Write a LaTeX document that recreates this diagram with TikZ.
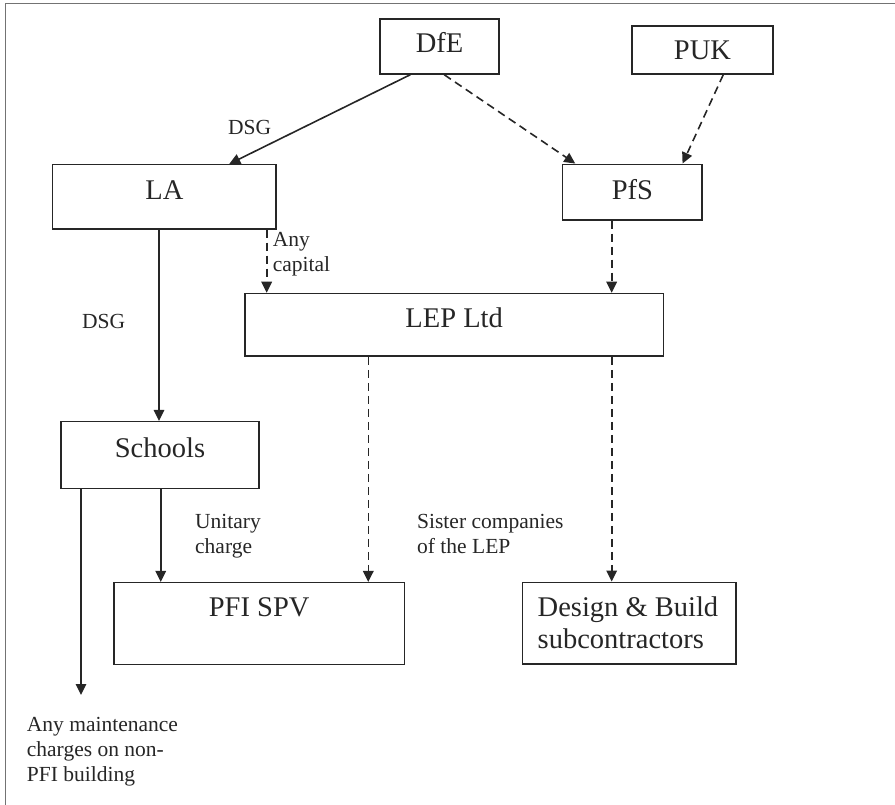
\documentclass[tikz,border=0pt]{standalone}
\usepackage{fontspec}
\setmainfont{Liberation Serif}
\usetikzlibrary{arrows.meta}
\newcommand\lns[1]{\vtop{\halign{##\hfil\cr#1\crcr}}}
\begin{document}
\begin{tikzpicture}[x=1pt,y=-1pt,
  box/.style={draw=black!85,line width=1.5pt,inner sep=0pt,rectangle},
  big/.style={font=\fontsize{28.5}{32}\selectfont,inner sep=0pt,anchor=base,text=black!85},
  lbl/.style={font=\fontsize{21.5}{25}\selectfont,inner sep=0pt,anchor=base west,text=black!85},
  conn/.style={line width=1.6pt,draw=black!85,-{Triangle[length=11pt,width=10.5pt]}},
  dsh/.style={conn,dash pattern=on 8pt off 5pt}]
\useasboundingbox (0,0) rectangle (895,805);
% frame
\draw[line width=1.6pt,black!55] (5.5,805) -- (5.5,3.5) -- (895,3.5);
% boxes
\node[box,minimum width=119pt,minimum height=55pt] (dfe) at (439.5,46.5) {};
\node[box,minimum width=141pt,minimum height=48pt] (puk) at (702.5,50) {};
\node[box,minimum width=223.3pt,minimum height=64.3pt] (la) at (164.35,196.85) {};
\node[box,minimum width=139.3pt,minimum height=55.7pt] (pfs) at (632.35,192.15) {};
\node[box,minimum width=418.3pt,minimum height=62.5pt] (lep) at (454.15,324.75) {};
\node[box,minimum width=198pt,minimum height=67pt] (sch) at (160,455.2) {};
\node[box,minimum width=290.3pt,minimum height=81.6pt] (pfi) at (259.15,623.5) {};
\node[box,minimum width=213.3pt,minimum height=81.7pt] (db) at (629.35,623.15) {};
% box texts
\node[big] (dfe-t) at (439.5,53) {DfE};
\node[big] (puk-t) at (702.5,60) {PUK};
\node[big] (la-t) at (164.35,199.3) {LA};
\node[big] (pfs-t) at (632.35,199.3) {PfS};
\node[big] (lep-t) at (454.15,327) {LEP Ltd};
\node[big] (sch-t) at (160,457.3) {Schools};
\node[big] (pfi-t) at (259.15,616.7) {PFI SPV};
\node[big,anchor=base west] (db-t) at (537.5,616) {\lns{Design \& Build\cr subcontractors}};
% x positions of vertical connectors
\coordinate (xa) at (159,0);
\coordinate (xb) at (266.7,0);
\coordinate (xc) at (611.7,0);
\coordinate (xd) at (368.3,0);
\coordinate (xe) at (160.7,0);
\coordinate (mend) at (81,695);
% connectors
\draw[conn] ([xshift=31pt]dfe.south west) -- ([xshift=177.3pt]la.north west);
\draw[dsh] ([xshift=65pt]dfe.south west) -- ([xshift=13.3pt]pfs.north west);
\draw[dsh] ([xshift=92pt]puk.south west) -- ([xshift=120.6pt]pfs.north west);
\draw[conn] (la.south -| xa) -- (sch.north -| xa);
\draw[dsh] (la.south -| xb) -- (lep.north -| xb);
\draw[dsh] (pfs.south -| xc) -- (lep.north -| xc);
\draw[dsh] (lep.south -| xd) -- (pfi.north -| xd);
\draw[dsh] (lep.south -| xc) -- (db.north -| xc);
\draw[conn] (sch.south -| xe) -- (pfi.north -| xe);
\draw[conn] (sch.south -| mend) -- (mend);
% labels
\node[lbl] (l-dsg1) at (228,135) {DSG};
\node[lbl] (l-dsg2) at (82,328) {DSG};
\node[lbl] (l-cap) at (272.7,246.7) {\lns{Any\cr capital}};
\node[lbl] (l-uc) at (195,528) {\lns{Unitary\cr charge}};
\node[lbl] (l-sis) at (417,528) {\lns{Sister companies\cr of the LEP}};
\node[lbl] (l-mnt) at (26.7,731.7) {\lns{Any maintenance\cr charges on non-\cr PFI building}};
\end{tikzpicture}
\end{document}
